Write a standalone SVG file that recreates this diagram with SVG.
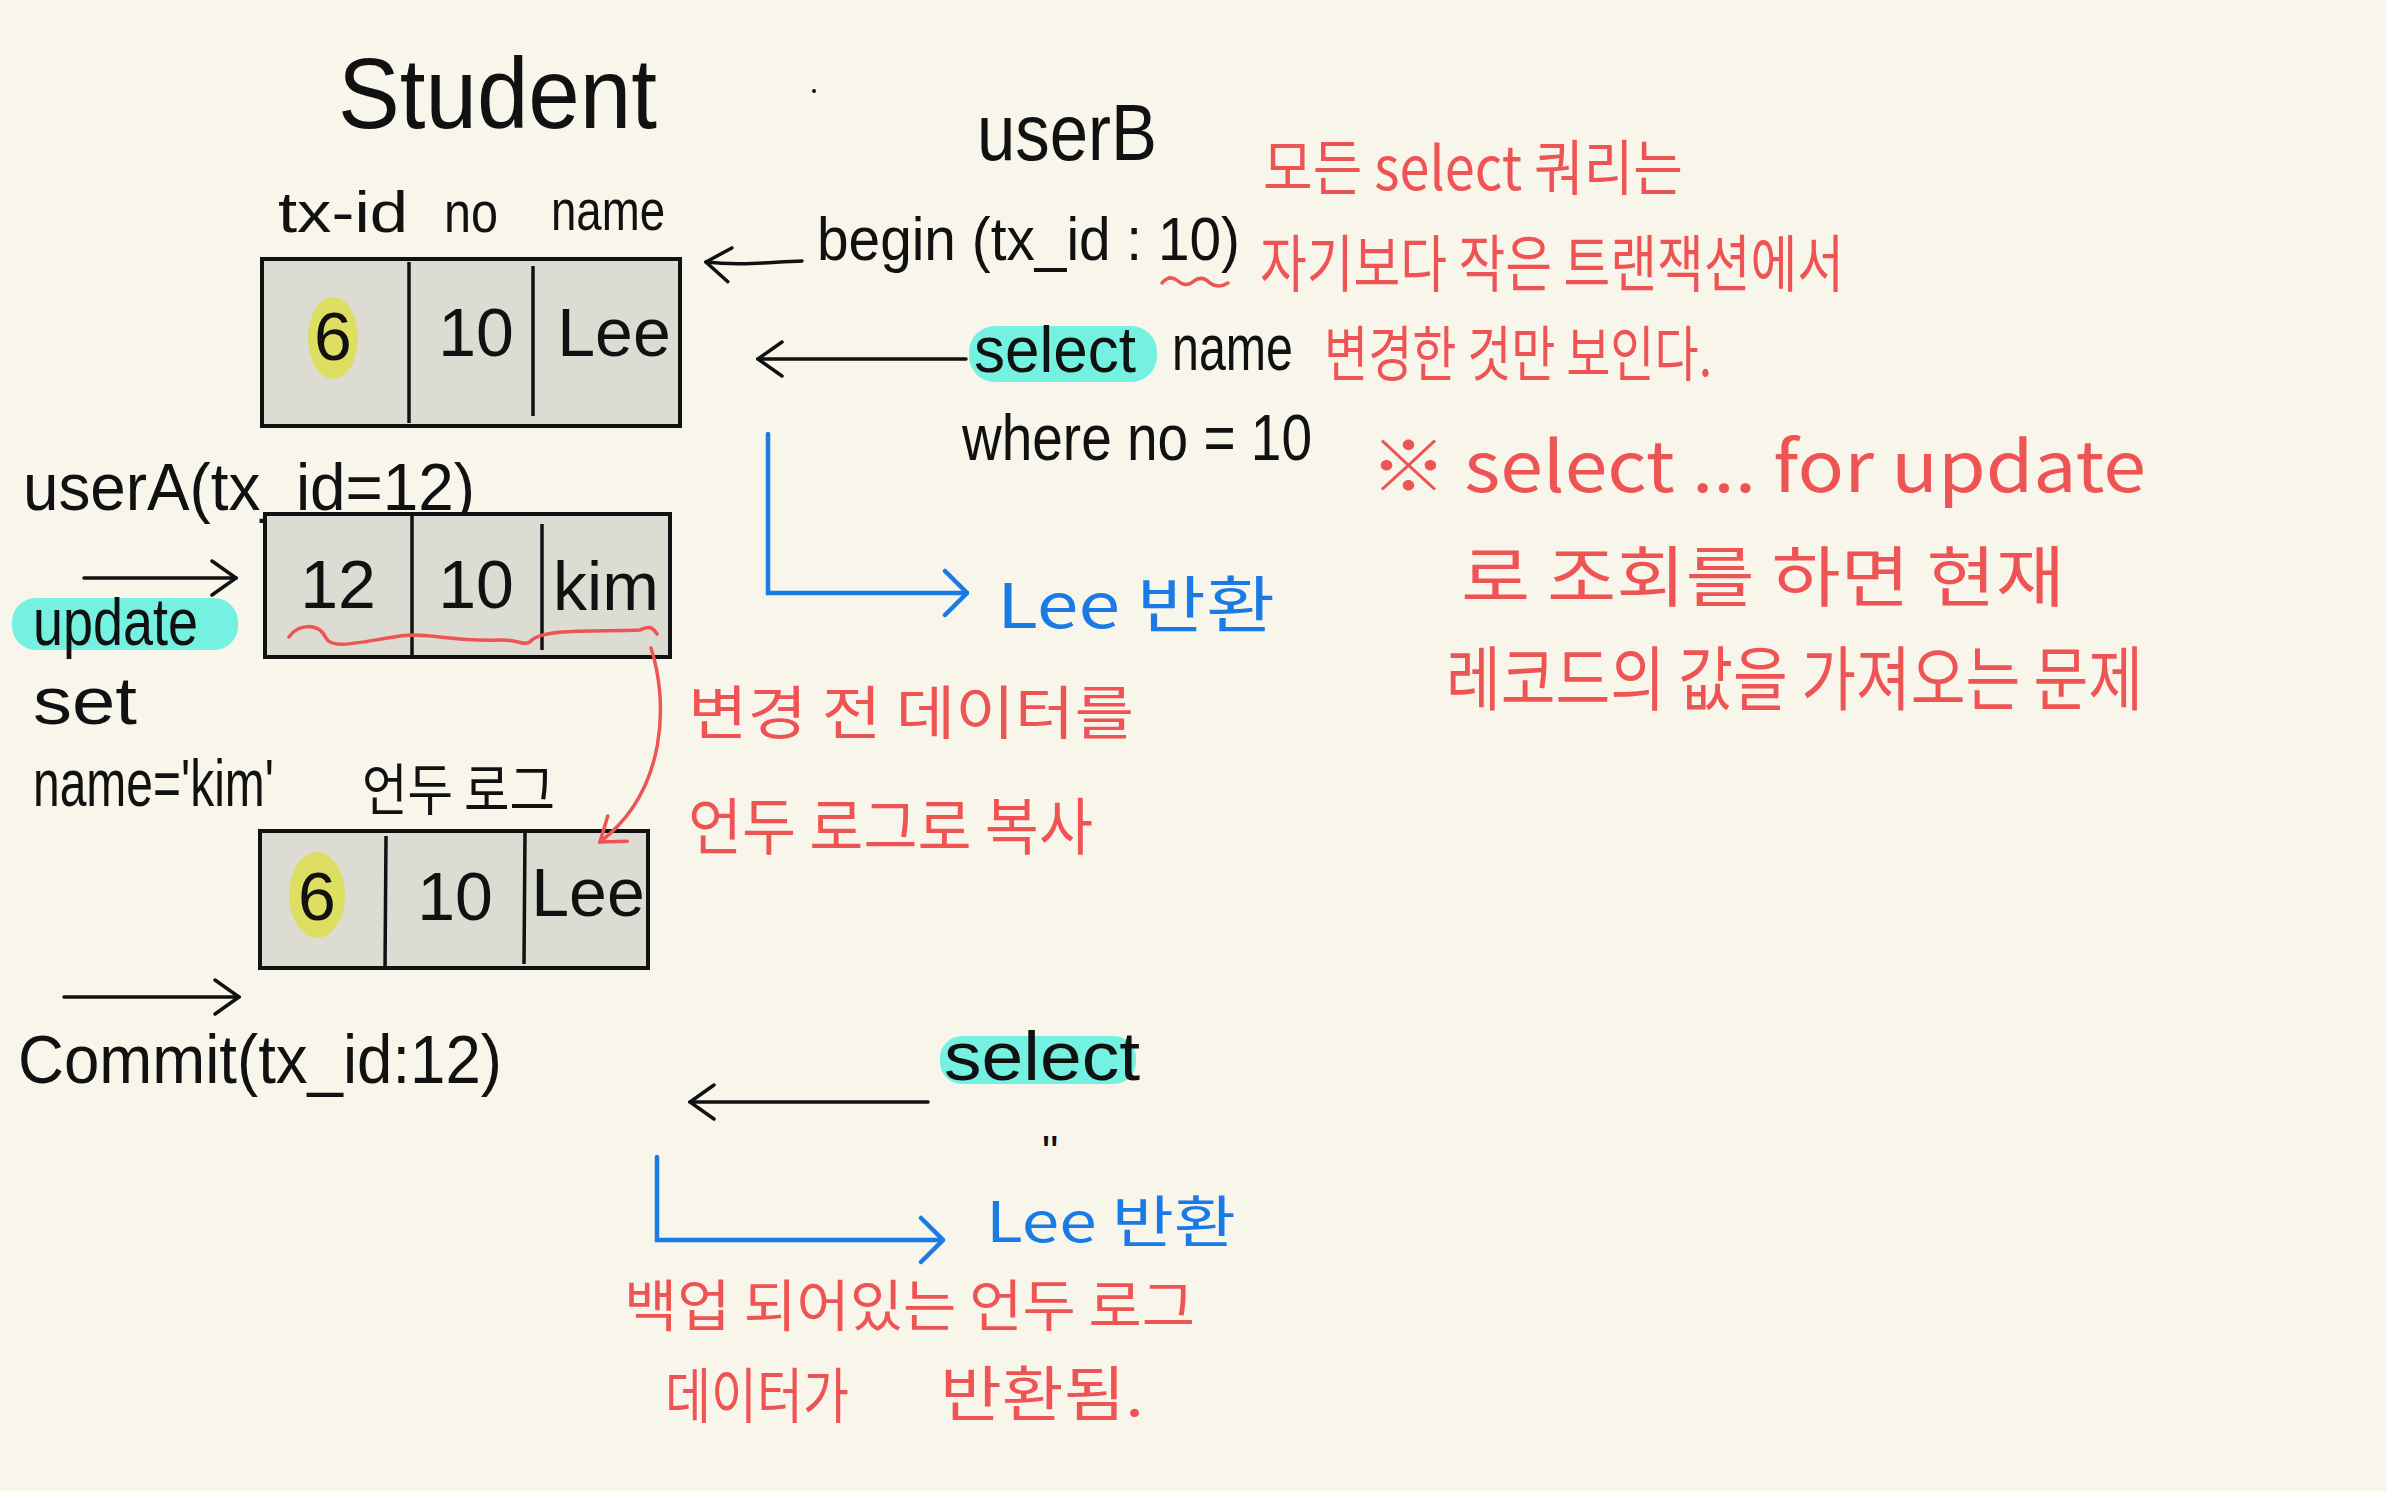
<svg xmlns="http://www.w3.org/2000/svg" width="2386" height="1491" viewBox="0 0 2386 1491">
<style>
.bk{font-family:"Liberation Sans","Noto Sans",sans-serif;fill:#111;}
.kr{font-family:"Noto Sans CJK KR","Noto Sans",sans-serif;}
.red{fill:#ef5454;font-family:"Noto Sans CJK KR","Liberation Sans",sans-serif;}
.blue{fill:#1a7ae6;font-family:"Noto Sans CJK KR","Liberation Sans",sans-serif;}
.cell{fill:#dcdcd2;stroke:#111;stroke-width:4;}
.div{stroke:#111;stroke-width:3.5;}
.val{font-family:"Liberation Sans","Noto Sans",sans-serif;fill:#111;font-size:68px;text-anchor:middle;}
.hl{fill:#5ef0e0;opacity:0.85;}
.yl{fill:#dede62;}
.cb{fill:none;stroke:#111;stroke-width:3.5;stroke-linecap:round;}
.cbl{fill:none;stroke:#1a7ae6;stroke-width:4.5;stroke-linecap:round;}
.crd{fill:none;stroke:#ef5454;stroke-width:3.5;stroke-linecap:round;}
</style>
<defs>
<marker id="ab" viewBox="0 0 30 40" refX="28" refY="20" markerWidth="30" markerHeight="40" markerUnits="userSpaceOnUse" orient="auto">
<path d="M4,3 L28,20 L4,37" fill="none" stroke="#111" stroke-width="3.5" stroke-linecap="round"/>
</marker>
<marker id="abl" viewBox="0 0 30 50" refX="28" refY="25" markerWidth="30" markerHeight="50" markerUnits="userSpaceOnUse" orient="auto">
<path d="M6,3 L28,25 L6,47" fill="none" stroke="#1a7ae6" stroke-width="4.5" stroke-linecap="round"/>
</marker>
<marker id="ard" viewBox="0 0 30 40" refX="26" refY="20" markerWidth="30" markerHeight="40" markerUnits="userSpaceOnUse" orient="auto">
<path d="M4,4 L26,20 L4,36" fill="none" stroke="#ef5454" stroke-width="3.5" stroke-linecap="round"/>
</marker>
</defs>
<rect width="2386" height="1491" fill="#f8f6eb"/>

<g id="title">
<text class="bk" x="338" y="128" font-size="100" textLength="319" lengthAdjust="spacingAndGlyphs">Student</text>
<circle cx="814" cy="91" r="2" fill="#111"/>
</g>

<g id="userB-label">
<text class="bk" x="977" y="160" font-size="80" textLength="180" lengthAdjust="spacingAndGlyphs">userB</text>
</g>

<g id="header">
<text class="bk" x="278" y="232" font-size="58" textLength="130" lengthAdjust="spacingAndGlyphs">tx-id</text>
<text class="bk" x="444" y="232" font-size="58" textLength="54" lengthAdjust="spacingAndGlyphs">no</text>
<text class="bk" x="551" y="230" font-size="58" textLength="114" lengthAdjust="spacingAndGlyphs">name</text>
</g>

<g id="table1">
<rect class="cell" x="262" y="259" width="418" height="167"/>
<line class="div" x1="409" y1="262" x2="409" y2="423"/>
<line class="div" x1="533" y1="266" x2="533" y2="416"/>
<ellipse class="yl" cx="333" cy="338" rx="25" ry="41"/>
<text class="val" x="333" y="360">6</text>
<text class="val" x="476" y="356">10</text>
<text class="val" x="614" y="356">Lee</text>
</g>

<g id="begin">
<text class="bk" x="817" y="260" font-size="62" textLength="423" lengthAdjust="spacingAndGlyphs">begin (tx_id : 10)</text>
<path class="crd" d="M1162,283 Q1170,274 1178,281 Q1186,288 1194,281 Q1202,275 1210,283 Q1218,289 1228,283"/>
</g>

<g id="selectB">
<rect class="hl" x="969" y="326" width="188" height="56" rx="26"/>
<text class="bk" x="974" y="372" font-size="64" textLength="162" lengthAdjust="spacingAndGlyphs">select</text>
<text class="bk" x="1172" y="370" font-size="64" textLength="121" lengthAdjust="spacingAndGlyphs">name</text>
<text class="bk" x="962" y="460" font-size="64" textLength="350" lengthAdjust="spacingAndGlyphs">where no = 10</text>
</g>

<g id="note-top">
<text class="red" x="1263" y="190" font-size="60" textLength="420" lengthAdjust="spacingAndGlyphs">모든 select 쿼리는</text>
<text class="red" x="1260" y="287" font-size="62" textLength="584" lengthAdjust="spacingAndGlyphs">자기보다 작은 트랜잭션에서</text>
<text class="red" x="1324" y="376" font-size="60" textLength="388" lengthAdjust="spacingAndGlyphs">변경한 것만 보인다.</text>
</g>

<g id="note-forupdate">
<text class="red" x="1370" y="492" font-size="70" textLength="776" lengthAdjust="spacingAndGlyphs">※ select ... for update</text>
<text class="red" x="1461" y="601" font-size="66" textLength="604" lengthAdjust="spacingAndGlyphs">로 조회를 하면 현재</text>
<text class="red" x="1446" y="705" font-size="70" textLength="697" lengthAdjust="spacingAndGlyphs">레코드의 값을 가져오는 문제</text>
</g>

<g id="result1">
<text class="blue" x="997" y="628" font-size="62" textLength="278" lengthAdjust="spacingAndGlyphs">Lee 반환</text>
</g>

<g id="userA">
<text class="bk" x="23" y="510" font-size="66" textLength="452" lengthAdjust="spacingAndGlyphs">userA(tx_id=12)</text>
<rect class="hl" x="12" y="598" width="226" height="52" rx="24"/>
<text class="bk" x="33" y="645" font-size="66" textLength="165" lengthAdjust="spacingAndGlyphs">update</text>
<text class="bk" x="33" y="724" font-size="66" textLength="104" lengthAdjust="spacingAndGlyphs">set</text>
<text class="bk" x="33" y="806" font-size="66" textLength="241" lengthAdjust="spacingAndGlyphs">name='kim'</text>
</g>

<g id="table2">
<rect class="cell" x="265" y="514" width="405" height="143"/>
<line class="div" x1="412" y1="516" x2="412" y2="655"/>
<line class="div" x1="542" y1="524" x2="542" y2="650"/>
<text class="val" x="338" y="608">12</text>
<text class="val" x="476" y="608">10</text>
<text class="val" x="606" y="610">kim</text>
<path class="crd" d="M289,637 C298,624 318,622 326,638 C332,650 360,642 400,636 C430,632 450,642 500,640 C520,639 525,648 532,640 C545,628 600,632 640,630 C648,626 652,626 657,634"/>
</g>

<g id="undo-label">
<text class="bk kr" x="362" y="810" font-size="56" textLength="193" lengthAdjust="spacingAndGlyphs">언두 로그</text>
</g>

<g id="table3">
<rect class="cell" x="260" y="831" width="388" height="137"/>
<line class="div" x1="386" y1="836" x2="385" y2="970"/>
<line class="div" x1="525" y1="833" x2="524" y2="964"/>
<ellipse class="yl" cx="317" cy="895" rx="28" ry="43"/>
<text class="val" x="317" y="920">6</text>
<text class="val" x="455" y="920">10</text>
<text class="val" x="588" y="916">Lee</text>
</g>

<g id="note-copy">
<text class="red" x="688" y="734" font-size="58" textLength="446" lengthAdjust="spacingAndGlyphs">변경 전 데이터를</text>
<text class="red" x="688" y="850" font-size="62" textLength="405" lengthAdjust="spacingAndGlyphs">언두 로그로 복사</text>
</g>

<g id="commit">
<text class="bk" x="18" y="1083" font-size="68" textLength="484" lengthAdjust="spacingAndGlyphs">Commit(tx_id:12)</text>
</g>

<g id="selectB2">
<rect class="hl" x="940" y="1036" width="196" height="48" rx="22"/>
<text class="bk" x="944" y="1080" font-size="68" textLength="196" lengthAdjust="spacingAndGlyphs">select</text>
<text class="bk" x="1042" y="1168" font-size="46">"</text>
</g>

<g id="result2">
<text class="blue" x="986" y="1242" font-size="56" textLength="250" lengthAdjust="spacingAndGlyphs">Lee 반환</text>
</g>

<g id="note-bottom">
<text class="red" x="624" y="1326" font-size="56" textLength="571" lengthAdjust="spacingAndGlyphs">백업 되어있는 언두 로그</text>
<text class="red" x="665" y="1418" font-size="60" textLength="184" lengthAdjust="spacingAndGlyphs">데이터가</text>
<text class="red" x="940" y="1416" font-size="60" textLength="204" lengthAdjust="spacingAndGlyphs">반환됨.</text>
</g>

<g id="connectors">
<path class="cb" d="M802,261 C770,262 740,266 706,262" marker-end="url(#ab)"/>
<path class="cb" d="M966,359 L758,359" marker-end="url(#ab)"/>
<path class="cbl" d="M768,434 V593 H967" marker-end="url(#abl)"/>
<path class="cb" d="M84,578 L236,578" marker-end="url(#ab)"/>
<path class="crd" d="M651,648 C668,700 668,790 600,842" marker-end="url(#ard)"/>
<path class="cb" d="M64,997 L239,997" marker-end="url(#ab)"/>
<path class="cb" d="M928,1102 L690,1102" marker-end="url(#ab)"/>
<path class="cbl" d="M657,1157 V1240 H943" marker-end="url(#abl)"/>
</g>
</svg>
